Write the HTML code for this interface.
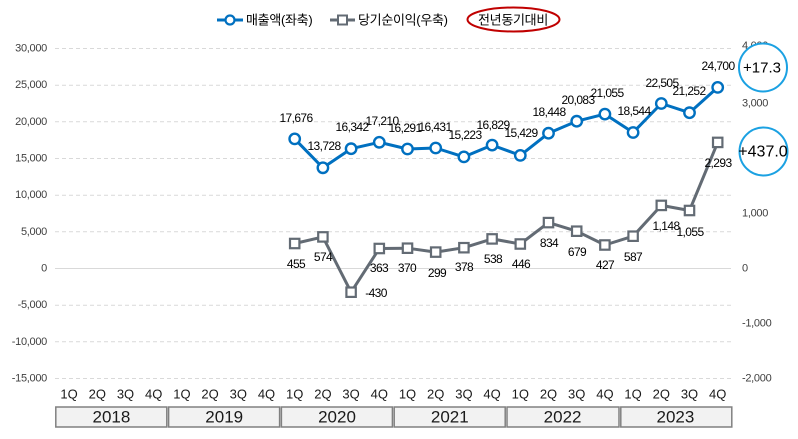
<!DOCTYPE html>
<html><head><meta charset="utf-8">
<style>
html,body{margin:0;padding:0;background:#fff;}
svg{display:block;}
text{font-family:"Liberation Sans","Noto Sans CJK KR",sans-serif;}
.ax{font-size:11px;fill:#404040;letter-spacing:-0.3px;}
.dl{font-size:12px;fill:#000;letter-spacing:-0.6px;text-anchor:middle;dominant-baseline:central;}
.q{font-size:13px;fill:#1a1a1a;text-anchor:middle;dominant-baseline:central;}
.yr{font-size:17px;fill:#1a1a1a;text-anchor:middle;dominant-baseline:central;}
.lg{font-size:13px;fill:#000;dominant-baseline:central;letter-spacing:-0.3px;}
</style></head>
<body>
<svg width="798" height="439" viewBox="0 0 798 439" xmlns="http://www.w3.org/2000/svg">
<rect width="798" height="439" fill="#fff"/>
<!-- gridlines -->
<g stroke="#d9d9d9" stroke-width="1" stroke-dasharray="4,3">
<line x1="55" y1="48.5" x2="731" y2="48.5"/>
<line x1="55" y1="85.2" x2="731" y2="85.2"/>
<line x1="55" y1="121.8" x2="731" y2="121.8"/>
<line x1="55" y1="158.5" x2="731" y2="158.5"/>
<line x1="55" y1="195.2" x2="731" y2="195.2"/>
<line x1="55" y1="231.8" x2="731" y2="231.8"/>
<line x1="55" y1="305.2" x2="731" y2="305.2"/>
<line x1="55" y1="341.8" x2="731" y2="341.8"/>
<line x1="55" y1="378.5" x2="731" y2="378.5"/>
</g>
<line x1="55" y1="268.5" x2="731" y2="268.5" stroke="#d9d9d9" stroke-width="1"/>
<!-- left axis -->
<g class="ax" text-anchor="end" dominant-baseline="central">
<text x="47" y="48.5">30,000</text>
<text x="47" y="85.2">25,000</text>
<text x="47" y="121.8">20,000</text>
<text x="47" y="158.5">15,000</text>
<text x="47" y="195.2">10,000</text>
<text x="47" y="231.8">5,000</text>
<text x="47" y="268.5">0</text>
<text x="47" y="305.2">-5,000</text>
<text x="47" y="341.8">-10,000</text>
<text x="47" y="378.5">-15,000</text>
</g>
<!-- right axis -->
<g class="ax" text-anchor="start" dominant-baseline="central">
<text x="742" y="46">4,000</text>
<text x="742" y="103.5">3,000</text>
<text x="742" y="158.5">2,000</text>
<text x="742" y="213.5">1,000</text>
<text x="742" y="268.5">0</text>
<text x="742" y="323.5">-1,000</text>
<text x="742" y="378.5">-2,000</text>
</g>
<!-- net income series -->
<polyline fill="none" stroke="#636b74" stroke-width="3" stroke-linejoin="round" points="294.7,243.5 322.9,236.9 351.1,292.2 379.3,248.5 407.5,248.2 435.7,252.1 463.9,247.7 492.1,238.9 520.3,244.0 548.5,222.6 576.7,231.2 604.9,245.0 633.1,236.2 661.3,205.4 689.5,210.5 717.7,142.4"/>
<g fill="#fff" stroke="#636b74" stroke-width="2.2">
<rect x="290" y="238.8" width="9.4" height="9.4"/>
<rect x="318.2" y="232.2" width="9.4" height="9.4"/>
<rect x="346.4" y="287.5" width="9.4" height="9.4"/>
<rect x="374.6" y="243.8" width="9.4" height="9.4"/>
<rect x="402.8" y="243.5" width="9.4" height="9.4"/>
<rect x="431" y="247.4" width="9.4" height="9.4"/>
<rect x="459.2" y="243" width="9.4" height="9.4"/>
<rect x="487.4" y="234.2" width="9.4" height="9.4"/>
<rect x="515.6" y="239.3" width="9.4" height="9.4"/>
<rect x="543.8" y="217.9" width="9.4" height="9.4"/>
<rect x="572" y="226.5" width="9.4" height="9.4"/>
<rect x="600.2" y="240.3" width="9.4" height="9.4"/>
<rect x="628.4" y="231.5" width="9.4" height="9.4"/>
<rect x="656.6" y="200.7" width="9.4" height="9.4"/>
<rect x="684.8" y="205.8" width="9.4" height="9.4"/>
<rect x="713" y="137.7" width="9.4" height="9.4"/>
</g>
<!-- revenue series -->
<polyline fill="none" stroke="#0070c0" stroke-width="3" stroke-linejoin="round" points="294.7,138.9 322.9,167.8 351.1,148.7 379.3,142.3 407.5,149.0 435.7,148.0 463.9,156.9 492.1,145.1 520.3,155.4 548.5,133.2 576.7,121.2 604.9,114.1 633.1,132.5 661.3,103.5 689.5,112.7 717.7,87.4"/>
<g fill="#fff" stroke="#0070c0" stroke-width="2.4">
<circle cx="294.7" cy="138.9" r="5.2"/>
<circle cx="322.9" cy="167.8" r="5.2"/>
<circle cx="351.1" cy="148.7" r="5.2"/>
<circle cx="379.3" cy="142.3" r="5.2"/>
<circle cx="407.5" cy="149.0" r="5.2"/>
<circle cx="435.7" cy="148.0" r="5.2"/>
<circle cx="463.9" cy="156.9" r="5.2"/>
<circle cx="492.1" cy="145.1" r="5.2"/>
<circle cx="520.3" cy="155.4" r="5.2"/>
<circle cx="548.5" cy="133.2" r="5.2"/>
<circle cx="576.7" cy="121.2" r="5.2"/>
<circle cx="604.9" cy="114.1" r="5.2"/>
<circle cx="633.1" cy="132.5" r="5.2"/>
<circle cx="661.3" cy="103.5" r="5.2"/>
<circle cx="689.5" cy="112.7" r="5.2"/>
<circle cx="717.7" cy="87.4" r="5.2"/>
</g>
<!-- revenue labels -->
<g class="dl">
<text x="296" y="118">17,676</text>
<text x="324" y="146">13,728</text>
<text x="352" y="127">16,342</text>
<text x="382" y="121">17,210</text>
<text x="405" y="128">16,291</text>
<text x="435" y="127">16,431</text>
<text x="465" y="135">15,223</text>
<text x="493" y="125">16,829</text>
<text x="521" y="133">15,429</text>
<text x="549" y="112">18,448</text>
<text x="578" y="100">20,083</text>
<text x="607" y="93">21,055</text>
<text x="634" y="111">18,544</text>
<text x="662" y="83">22,505</text>
<text x="689" y="91">21,252</text>
<text x="718" y="66">24,700</text>
</g>
<!-- net labels -->
<g class="dl">
<text x="296" y="264">455</text>
<text x="323" y="257">574</text>
<text x="376" y="293">-430</text>
<text x="379" y="268">363</text>
<text x="407" y="268">370</text>
<text x="437" y="273">299</text>
<text x="464" y="267">378</text>
<text x="493" y="259">538</text>
<text x="521" y="264">446</text>
<text x="549" y="243">834</text>
<text x="577" y="252">679</text>
<text x="605" y="265">427</text>
<text x="633" y="257">587</text>
<text x="666" y="226">1,148</text>
<text x="690" y="232">1,055</text>
<text x="718" y="163">2,293</text>
</g>
<!-- YoY circles -->
<circle cx="763" cy="67.5" r="24" fill="#fff" stroke="#1ba1e2" stroke-width="2"/>
<text x="762" y="68" font-size="15" text-anchor="middle" dominant-baseline="central" fill="#000">+17.3</text>
<circle cx="763.5" cy="151.5" r="24" fill="#fff" stroke="#1ba1e2" stroke-width="2"/>
<text x="763" y="152" font-size="16" text-anchor="middle" dominant-baseline="central" fill="#000">+437.0</text>
<!-- quarter labels -->
<g class="q">
<text x="69.1" y="394">1Q</text><text x="97.3" y="394">2Q</text><text x="125.5" y="394">3Q</text><text x="153.7" y="394">4Q</text>
<text x="181.9" y="394">1Q</text><text x="210.1" y="394">2Q</text><text x="238.3" y="394">3Q</text><text x="266.5" y="394">4Q</text>
<text x="294.7" y="394">1Q</text><text x="322.9" y="394">2Q</text><text x="351.1" y="394">3Q</text><text x="379.3" y="394">4Q</text>
<text x="407.5" y="394">1Q</text><text x="435.7" y="394">2Q</text><text x="463.9" y="394">3Q</text><text x="492.1" y="394">4Q</text>
<text x="520.3" y="394">1Q</text><text x="548.5" y="394">2Q</text><text x="576.7" y="394">3Q</text><text x="604.9" y="394">4Q</text>
<text x="633.1" y="394">1Q</text><text x="661.3" y="394">2Q</text><text x="689.5" y="394">3Q</text><text x="717.7" y="394">4Q</text>
</g>
<!-- year boxes -->
<g fill="#f2f2f2" stroke="#808080" stroke-width="1.5">
<rect x="55.8" y="407" width="111" height="20"/>
<rect x="168.6" y="407" width="111" height="20"/>
<rect x="281.4" y="407" width="111" height="20"/>
<rect x="394.2" y="407" width="111" height="20"/>
<rect x="507" y="407" width="112" height="20"/>
<rect x="620.8" y="407" width="111" height="20"/>
</g>
<g class="yr">
<text x="111.4" y="417">2018</text>
<text x="224.2" y="417">2019</text>
<text x="337" y="417">2020</text>
<text x="449.8" y="417">2021</text>
<text x="562.6" y="417">2022</text>
<text x="675.4" y="417">2023</text>
</g>
<!-- legend -->
<line x1="217" y1="20" x2="243" y2="20" stroke="#0070c0" stroke-width="3"/>
<circle cx="230" cy="20" r="4.5" fill="#fff" stroke="#0070c0" stroke-width="2.2"/>
<text class="lg" x="246" y="20">매출액(좌축)</text>
<line x1="330" y1="20" x2="355" y2="20" stroke="#636b74" stroke-width="3"/>
<rect x="338" y="15.5" width="9" height="9" fill="#fff" stroke="#636b74" stroke-width="2"/>
<text class="lg" x="358" y="20">당기순이익(우축)</text>
<ellipse cx="513.5" cy="19.5" rx="46" ry="12" fill="none" stroke="#c00000" stroke-width="2"/>
<text class="lg" x="513" y="20" text-anchor="middle">전년동기대비</text>
</svg>
</body></html>
